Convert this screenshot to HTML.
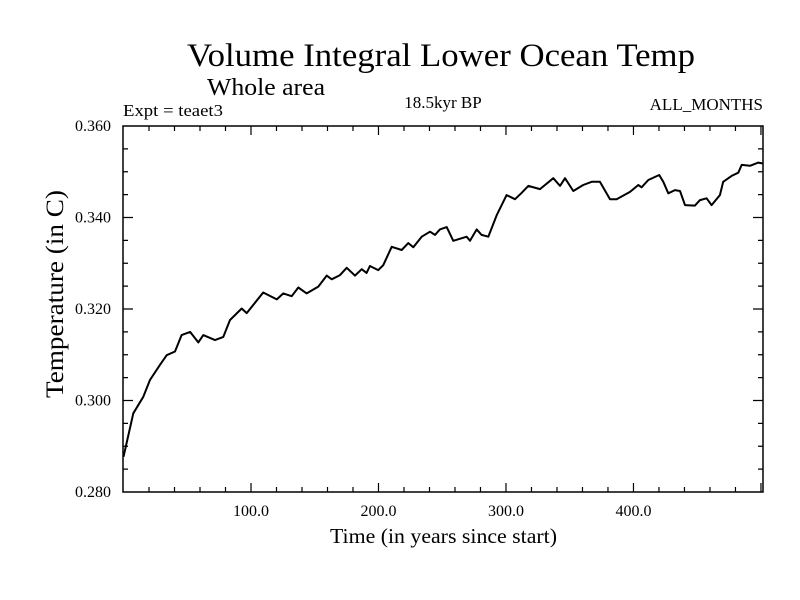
<!DOCTYPE html>
<html><head><meta charset="utf-8"><style>
body{margin:0;background:#fff}
svg{display:block;font-family:"Liberation Serif",serif}
</style></head><body>
<svg id="chart" width="800" height="600">
<text x="187" y="66" font-size="33" textLength="508" lengthAdjust="spacingAndGlyphs">Volume Integral Lower Ocean Temp</text>
<text x="207" y="95" font-size="24" textLength="118" lengthAdjust="spacingAndGlyphs">Whole area</text>
<text x="123" y="116" font-size="17" textLength="100" lengthAdjust="spacingAndGlyphs">Expt = teaet3</text>
<text x="443" y="108" font-size="17" text-anchor="middle">18.5kyr BP</text>
<text x="763" y="110" font-size="17" text-anchor="end">ALL_MONTHS</text>
<text x="330" y="543" font-size="21" textLength="227" lengthAdjust="spacingAndGlyphs">Time (in years since start)</text>
<text transform="translate(63,398) rotate(-90)" font-size="25" textLength="208" lengthAdjust="spacingAndGlyphs">Temperature (in C)</text>
<g id="axes"></g>
<path id="line" fill="none" stroke="#000" stroke-width="2" stroke-linejoin="round"/>
</svg>
<script>
const years=[0,7.7,15.5,20.8,28.6,33.9,40.4,45.6,52.2,58.7,62.6,71.8,78.3,83.5,92.7,96.6,109.6,120.2,125.3,131.9,137.1,143.7,152.8,159.4,163.3,169.8,175.1,181.6,186.8,190.7,193.3,199.8,203.8,210.4,218.2,223.4,227.3,233.9,240.4,244.3,248.2,253.5,258.7,269.2,271.8,277.0,280.9,286.1,292.7,300.5,307.1,312.3,317.5,326.7,337.1,342.4,346.3,352.8,360.6,367.2,373.7,381.6,386.8,397.3,403.8,406.4,411.6,420.2,423.4,427.3,432.5,436.5,440.4,448.2,452.2,457.4,461.3,467.8,470.4,477.0,482.2,484.9,491.4,497.9,501.6];
const temps=[0.2877,0.2972,0.3008,0.3045,0.3078,0.3099,0.3107,0.3143,0.3150,0.3127,0.3143,0.3132,0.3139,0.3176,0.3201,0.3191,0.3236,0.3221,0.3234,0.3228,0.3247,0.3234,0.3249,0.3273,0.3265,0.3274,0.3290,0.3273,0.3287,0.3279,0.3294,0.3285,0.3296,0.3336,0.3329,0.3344,0.3335,0.3358,0.3369,0.3362,0.3374,0.3379,0.3349,0.3358,0.3349,0.3374,0.3362,0.3358,0.3405,0.3449,0.3440,0.3454,0.3469,0.3462,0.3486,0.3469,0.3486,0.3458,0.3471,0.3478,0.3478,0.3440,0.3440,0.3456,0.3471,0.3466,0.3482,0.3493,0.3478,0.3453,0.3460,0.3458,0.3427,0.3426,0.3438,0.3442,0.3427,0.3449,0.3478,0.3491,0.3498,0.3515,0.3513,0.3520,0.3518];
const xTickLabels=["100.0","200.0","300.0","400.0"];
const xTickValues=[100,200,300,400];
const yTickLabels=["0.280","0.300","0.320","0.340","0.360"];
const yTickValues=[0.28,0.30,0.32,0.34,0.36];

const L=123,R=763,T=126,B=492,X0=-0.4,X1=501.6,Y0=0.28,Y1=0.36;
const sx=v=>L+(v-X0)/(X1-X0)*(R-L);
const sy=v=>B-(v-Y0)/(Y1-Y0)*(B-T);
const NS="http://www.w3.org/2000/svg";
const g=document.getElementById('axes');
function mk(tag,a){const e=document.createElementNS(NS,tag);for(const k in a)e.setAttribute(k,a[k]);g.appendChild(e);return e;}
const frame=mk('rect',{x:L,y:T,width:R-L,height:B-T,fill:'none',stroke:'#000','stroke-width':1.5});


let d='';
for(let v=20;v<X1;v+=20){const x=sx(v),len=(v%100===0)?9:5;d+=`M${x},${B}v${-len}M${x},${T}v${len}`;}
for(let i=1;i<16;i++){const v=0.28+i*0.005,y=sy(v),len=(i%4===0)?10:5;d+=`M${L},${y}h${len}M${R},${y}h${-len}`;}
const ticks=mk('path',{d:d,stroke:'#000','stroke-width':1.2,fill:'none'});


xTickLabels.forEach((t,i)=>{const e=mk('text',{x:sx(xTickValues[i]),y:B+24,'font-size':16,'text-anchor':'middle'});e.textContent=t;

});
yTickLabels.forEach((t,i)=>{const e=mk('text',{x:L-12,y:sy(yTickValues[i])+5,'font-size':16,'text-anchor':'end'});e.textContent=t;

});
document.getElementById('line').setAttribute('d',years.map((y,i)=>(i?'L':'M')+sx(y).toFixed(1)+','+sy(temps[i]).toFixed(1)).join(''));
</script>
</body></html>
